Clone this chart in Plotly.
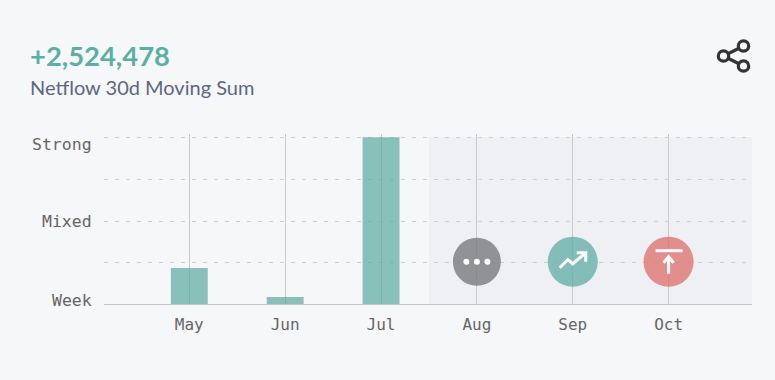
import plotly.graph_objects as go

months = ["May", "Jun", "Jul", "Aug", "Sep", "Oct"]
netflow = [0.88, 0.19, 4.0, None, None, None]
signal_months = ["Aug", "Sep", "Oct"]
signal_level = [1.03, 1.03, 1.03]
signal_colors = ["#77777c", "#64b0a5", "#df7270"]
signal_sizes = [48, 50, 50]
y_labels = ["Week", "Mixed", "Strong"]
y_label_pos = [0.02, 2, 4]
y_label_shift = [4, 0, -7]

W, H = 775, 380
L, R, T, B = 104, 752, 134, 304


def px(x):
    return (x - L) / (R - L)


def py(y):
    return (B - y) / (B - T)


fig = go.Figure()
fig.add_trace(go.Bar(x=months, y=netflow, width=0.385,
                     marker=dict(color="rgba(90,170,158,0.7)", line=dict(width=0)),
                     hoverinfo="skip"))
fig.add_trace(go.Scatter(x=signal_months, y=signal_level, mode="markers",
                         marker=dict(size=signal_sizes, color=signal_colors, opacity=0.78,
                                     line=dict(width=0)), hoverinfo="skip"))

shapes = [dict(type="rect", layer="below", xref="paper", yref="paper",
               x0=px(429), x1=1, y0=0, y1=py(137), fillcolor="#eef0f4", line=dict(width=0))]


def icon(month, path, stroke="white", w=3):
    shapes.append(dict(type="path", xref="x", yref="y", xsizemode="pixel", ysizemode="pixel",
                       xanchor=month, yanchor=1.03, path=path,
                       fillcolor="rgba(0,0,0,0)", line=dict(color=stroke, width=w)))


for dx in (-10.5, 0, 10.5):
    shapes.append(dict(type="circle", xref="x", yref="y", xsizemode="pixel", ysizemode="pixel",
                       xanchor="Aug", yanchor=1.03, x0=dx - 3, x1=dx + 3, y0=-3, y1=3,
                       fillcolor="white", line=dict(width=0)))
icon("Sep", "M-13,-6 L-5,2 L0,-2 L12,8")
icon("Sep", "M4,9 L13,9 L13,0")
icon("Oct", "M-13,11 L14,11")
icon("Oct", "M0,-12 L0,4")
icon("Oct", "M-5,-1 L0,5 L5,-1")

# share glyph
SH = "#333333"
for (cx, cy) in [(723.5, 56), (743.5, 46), (743.5, 66)]:
    shapes.append(dict(type="circle", xref="paper", yref="paper",
                       x0=px(cx - 5.2), x1=px(cx + 5.2), y0=py(cy + 5.2), y1=py(cy - 5.2),
                       line=dict(color=SH, width=3.2), fillcolor="rgba(0,0,0,0)"))
for (x0, y0, x1, y1) in [(728.5, 53.5, 738.5, 48.5), (728.5, 58.5, 738.5, 63.5)]:
    shapes.append(dict(type="line", xref="paper", yref="paper",
                       x0=px(x0), x1=px(x1), y0=py(y0), y1=py(y1),
                       line=dict(color=SH, width=3.2)))

ann = [
    dict(text="<b>+2,524,478</b>", xref="paper", yref="paper", x=px(28), y=py(55),
         xanchor="left", yanchor="middle", showarrow=False,
         font=dict(family="Lato", size=27.4, color="#5bb0a2")),
    dict(text="Netflow 30d Moving Sum", xref="paper", yref="paper", x=px(28), y=py(86.5),
         xanchor="left", yanchor="middle", showarrow=False,
         font=dict(family="Lato", size=20, color="#5c6880")),
]
for lab, pos, sh in zip(y_labels, y_label_pos, y_label_shift):
    ann.append(dict(text=lab, xref="paper", yref="y", x=px(94), y=pos, yshift=sh,
                    xanchor="right", yanchor="middle", showarrow=False,
                    font=dict(family="DejaVu Sans Mono", size=16.5, color="#666666")))

fig.update_layout(
    width=W, height=H, autosize=False, showlegend=False,
    paper_bgcolor="#f6f7f9", plot_bgcolor="rgba(0,0,0,0)",
    margin=dict(l=L, r=W - R, t=T, b=H - B, pad=0),
    shapes=shapes, annotations=ann,
    xaxis=dict(type="category", categoryorder="array", categoryarray=months,
               range=[-0.89, 5.87], showgrid=True, gridcolor="#c9c9cc", gridwidth=1,
               zeroline=False, showline=True, linecolor="#c4c4c8", linewidth=1,
               ticks="", ticklabelstandoff=6,
               tickfont=dict(family="DejaVu Sans Mono", size=16, color="#666666")),
    yaxis=dict(range=[0.02, 4.08], tickvals=[1, 2, 3, 4], showticklabels=False, showgrid=True,
               gridcolor="#cfcfcf", gridwidth=1, griddash="4px,7px", zeroline=False, ticks=""),
)
fig.write_html("out.html", config=dict(displayModeBar=False),
               post_script="document.documentElement.style.background='#f6f7f9';"
                           "document.body.style.margin='0';"
                           "window.dispatchEvent(new Event('resize'));")
